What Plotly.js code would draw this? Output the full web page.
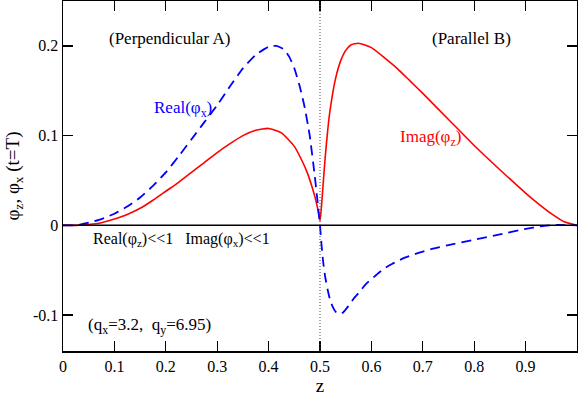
<!DOCTYPE html>
<html>
<head>
<meta charset="utf-8">
<script src="https://cdn.plot.ly/plotly-3.0.1.min.js"></script>
<style>
html,body{margin:0;padding:0;background:#fff;}
#chart{width:578px;height:396px;}
</style>
</head>
<body>
<div id="chart"></div>
<script>
// Solid red curve (Imag parts)
const redZ = [0, 0.025, 0.05, 0.075, 0.1, 0.125, 0.15, 0.175, 0.2, 0.225, 0.25, 0.275, 0.3, 0.325, 0.35, 0.375, 0.4, 0.425, 0.45, 0.465, 0.475, 0.485, 0.49, 0.495, 0.5,
              0.503, 0.506, 0.51, 0.515, 0.52, 0.53, 0.54, 0.55, 0.56, 0.575, 0.6, 0.625, 0.65, 0.675, 0.7, 0.75, 0.8, 0.85, 0.9, 0.925, 0.95, 0.975, 1.0];
const redV = [0, 0, 0.001, 0.003, 0.007, 0.012, 0.019, 0.028, 0.038, 0.048, 0.059, 0.070, 0.081, 0.091, 0.100, 0.106, 0.108, 0.103, 0.088, 0.072, 0.059, 0.042, 0.032, 0.020, 0.005,
              0.022, 0.045, 0.075, 0.106, 0.130, 0.163, 0.183, 0.195, 0.201, 0.203, 0.198, 0.187, 0.175, 0.161, 0.147, 0.118, 0.089, 0.062, 0.036, 0.024, 0.013, 0.004, 0];
// Dashed blue curve (Real parts)
const blueZ = [0, 0.025, 0.05, 0.075, 0.1, 0.125, 0.15, 0.175, 0.2, 0.225, 0.25, 0.275, 0.3, 0.325, 0.35, 0.375, 0.4, 0.415, 0.43, 0.44, 0.45, 0.46, 0.47, 0.48, 0.49, 0.495, 0.5,
               0.503, 0.506, 0.51, 0.515, 0.52, 0.525, 0.53, 0.537, 0.545, 0.555, 0.565, 0.577, 0.59, 0.61, 0.625, 0.64, 0.665, 0.69, 0.72, 0.75, 0.8, 0.85, 0.9, 0.93, 0.96, 1.0];
const blueV = [0, 0, 0.003, 0.007, 0.013, 0.021, 0.031, 0.044, 0.059, 0.077, 0.096, 0.115, 0.134, 0.155, 0.175, 0.190, 0.199, 0.200, 0.196, 0.188, 0.175, 0.156, 0.132, 0.100, 0.054, 0.028, 0,
               -0.022, -0.040, -0.057, -0.072, -0.084, -0.091, -0.096, -0.099, -0.097, -0.090, -0.082, -0.074, -0.065, -0.055, -0.048, -0.043, -0.036, -0.031, -0.026, -0.022, -0.016, -0.010, -0.004, -0.001, 0.0005, 0];
const xTickVals = [0, 0.1, 0.2, 0.3, 0.4, 0.5, 0.6, 0.7, 0.8, 0.9, 1];
const xTickText = ["0", "0.1", "0.2", "0.3", "0.4", "0.5", "0.6", "0.7", "0.8", "0.9", "1"];
const yTickVals = [-0.1, 0, 0.1, 0.2];
const yTickText = ["-0.1", "0", "0.1", "0.2"];
const xMinorVals = [0.05, 0.15, 0.25, 0.35, 0.45, 0.55, 0.65, 0.75, 0.85, 0.95];
const yMinorVals = [-0.05, 0.05, 0.15];

const FONT = "Liberation Serif";
const X_RANGE = [0, 1];
const Y_RANGE = [-0.14, 0.25];

const traces = [
  {x: redZ, y: redV, mode: "lines", line: {color: "#ff0000", width: 1.6, shape: "spline", smoothing: 0.5}, hoverinfo: "skip"},
  {x: blueZ, y: blueV, mode: "lines", line: {color: "#0000ff", width: 1.8, dash: "10px,6px", shape: "spline", smoothing: 0.5}, hoverinfo: "skip"}
];

const axBase = {
  showgrid: false, zeroline: false, showline: true, linecolor: "#000", linewidth: 1.5,
  mirror: "ticks", ticks: "inside", ticklen: 10, tickwidth: 1.3, tickcolor: "#000",
  tickfont: {family: FONT, size: 16, color: "#000"}
};
const minorAx = {
  showgrid: false, zeroline: false, showline: false, showticklabels: false,
  mirror: "ticks", ticks: "inside", ticklen: 5, tickwidth: 1, tickcolor: "#000", tickmode: "array"
};

const layout = {
  width: 578, height: 396,
  margin: {l: 63, r: 1, t: 1, b: 45},
  paper_bgcolor: "#fff", plot_bgcolor: "#fff",
  showlegend: false,
  font: {family: FONT, color: "#000"},
  xaxis: Object.assign({}, axBase, {
    range: X_RANGE, tickmode: "array", tickvals: xTickVals, ticktext: xTickText,
    title: {text: "z", font: {family: FONT, size: 19, color: "#000"}, standoff: 0}
  }),
  yaxis: Object.assign({}, axBase, {
    range: Y_RANGE, tickmode: "array", tickvals: yTickVals, ticktext: yTickText,
    title: {text: "φ<sub>z</sub>, φ<sub>x</sub> (t=T)", font: {family: FONT, size: 19, color: "#000"}, standoff: 8}
  }),
  xaxis2: Object.assign({}, minorAx, {overlaying: "x", anchor: "y", range: X_RANGE, tickvals: xMinorVals}),
  yaxis2: Object.assign({}, minorAx, {overlaying: "y", anchor: "x", range: Y_RANGE, tickvals: yMinorVals}),
  shapes: [
    {type: "line", xref: "x", yref: "y", x0: 0, x1: 1, y0: 0, y1: 0, line: {color: "#000", width: 1.5}},
    {type: "line", xref: "x", yref: "paper", x0: 0.5, x1: 0.5, y0: 0, y1: 1, line: {color: "#444", width: 1, dash: "1px,2px"}}
  ],
  annotations: [
    {x: 0.208, y: 0.208, xref: "x", yref: "y", text: "(Perpendicular A)", showarrow: false, font: {family: FONT, size: 17, color: "#000"}},
    {x: 0.794, y: 0.208, xref: "x", yref: "y", text: "(Parallel B)", showarrow: false, font: {family: FONT, size: 17, color: "#000"}},
    {x: 0.233, y: 0.130, xref: "x", yref: "y", text: "Real(φ<sub>x</sub>)", showarrow: false, font: {family: FONT, size: 17, color: "#0000ff"}},
    {x: 0.714, y: 0.097, xref: "x", yref: "y", text: "Imag(φ<sub>z</sub>)", showarrow: false, font: {family: FONT, size: 17, color: "#ff0000"}},
    {x: 0.23, y: -0.016, xref: "x", yref: "y", text: "Real(φ<sub>z</sub>)<<1   Imag(φ<sub>x</sub>)<<1", showarrow: false, font: {family: FONT, size: 16, color: "#000"}},
    {x: 0.169, y: -0.112, xref: "x", yref: "y", text: "(q<sub>x</sub>=3.2,  q<sub>y</sub>=6.95)", showarrow: false, font: {family: FONT, size: 17, color: "#000"}}
  ]
};

Plotly.newPlot("chart", traces, layout, {staticPlot: true, displayModeBar: false});
</script>
</body>
</html>
